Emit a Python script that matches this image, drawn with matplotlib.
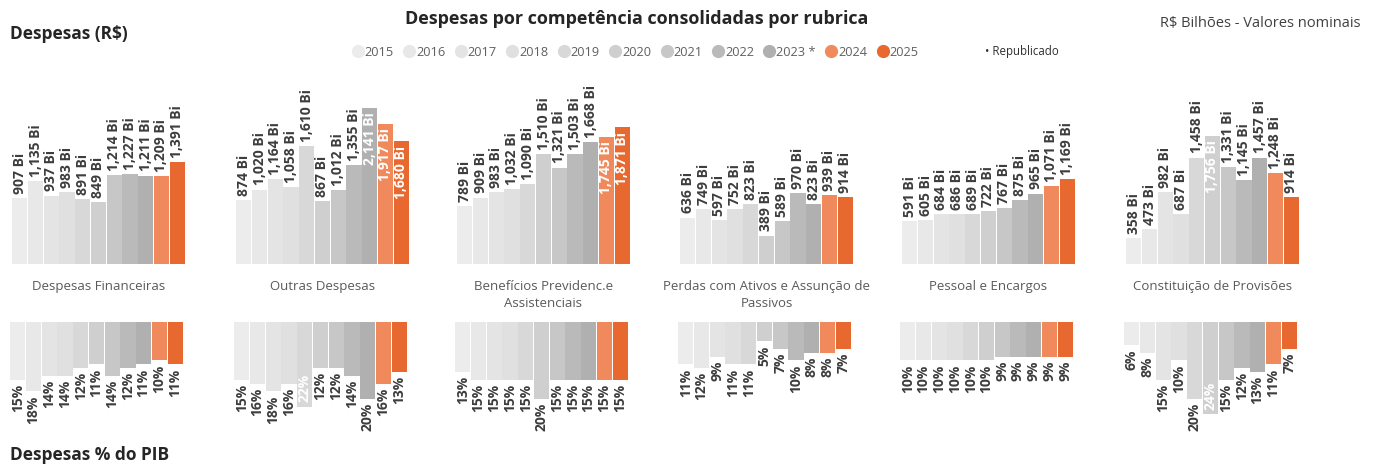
import matplotlib
matplotlib.use("Agg")
import matplotlib.pyplot as plt
from matplotlib.lines import Line2D

plt.rcParams['font.family'] = ['Open Sans', 'DejaVu Sans']

years = ['2015', '2016', '2017', '2018', '2019', '2020', '2021', '2022', '2023', '2024', '2025']
legend_labels = ['2015', '2016', '2017', '2018', '2019', '2020', '2021', '2022', '2023 *', '2024', '2025']
categories = ['Despesas Financeiras', 'Outras Despesas', 'Benefícios Previdenc.e\nAssistenciais',
              'Perdas com Ativos e Assunção de\nPassivos', 'Pessoal e Encargos', 'Constituição de Provisões']

# R$ bilhões
fin_rs = [907, 1135, 937, 983, 891, 849, 1214, 1227, 1211, 1209, 1391]
outras_rs = [874, 1020, 1164, 1058, 1610, 867, 1012, 1355, 2141, 1917, 1680]
benef_rs = [789, 909, 983, 1032, 1090, 1510, 1321, 1503, 1668, 1745, 1871]
perdas_rs = [636, 749, 597, 752, 823, 389, 589, 970, 823, 939, 914]
pessoal_rs = [591, 605, 684, 686, 689, 722, 767, 875, 965, 1071, 1169]
prov_rs = [358, 473, 982, 687, 1458, 1756, 1331, 1145, 1457, 1248, 914]

# % do PIB
fin_pib = [15, 18, 14, 14, 12, 11, 14, 12, 11, 10, 11]
outras_pib = [15, 16, 18, 16, 22, 12, 12, 14, 20, 16, 13]
benef_pib = [13, 15, 15, 15, 15, 20, 15, 15, 15, 15, 15]
perdas_pib = [11, 12, 9, 11, 11, 5, 7, 10, 8, 8, 7]
pessoal_pib = [10, 10, 10, 10, 10, 10, 9, 9, 9, 9, 9]
prov_pib = [6, 8, 15, 10, 20, 24, 15, 12, 13, 11, 7]

rs_series = [fin_rs, outras_rs, benef_rs, perdas_rs, pessoal_rs, prov_rs]
pib_series = [fin_pib, outras_pib, benef_pib, perdas_pib, pessoal_pib, prov_pib]

colors = ['#ECECEC', '#E8E8E8', '#E4E4E4', '#E0E0E0', '#D8D8D8', '#CFCFCF',
          '#C7C7C7', '#BABABA', '#B0B0B0', '#F08A5D', '#E8692F']

W, H = 1375, 468
fig = plt.figure(figsize=(W / 100, H / 100), dpi=100)
fig.patch.set_facecolor('white')

def frac_rect(x0, y_top, w, h):
    return [x0 / W, 1 - (y_top + h) / H, w / W, h / H]

panel_left = [12, 236, 457, 680, 902, 1126]
panel_w = 173
label_color = '#3d3d3d'
LBL_FS = 10

RS_TOP, RS_BASE = 70, 264
RS_MAX = (RS_BASE - RS_TOP) * 13.7
PIB_TOP, PIB_H = 322, 118
PIB_MAX = PIB_H * 0.26
x = list(range(len(years)))

for i in range(6):
    # top chart (R$)
    ax = fig.add_axes(frac_rect(panel_left[i], RS_TOP, panel_w, RS_BASE - RS_TOP))
    vals = rs_series[i]
    ax.bar(x, vals, width=0.96, color=colors, linewidth=0)
    ax.set_xlim(-0.5, len(years) - 0.5)
    ax.set_ylim(0, RS_MAX)
    ax.axis('off')
    for xi, v in zip(x, vals):
        txt = f"{v:,} Bi"
        if v > 1675:
            ax.annotate(txt, (xi, v), xytext=(0, -3), textcoords='offset points',
                        rotation=90, ha='center', va='top', color='white',
                        fontsize=LBL_FS, fontweight='bold', annotation_clip=False)
        else:
            ax.annotate(txt, (xi, v), xytext=(0, 3), textcoords='offset points',
                        rotation=90, ha='center', va='bottom', color=label_color,
                        fontsize=LBL_FS, fontweight='bold', annotation_clip=False)
    # category title
    cx = panel_left[i] + panel_w / 2
    fig.text(cx / W, 1 - 280 / H, categories[i], ha='center', va='top',
             fontsize=9.5, color='#5a5a5a', linespacing=1.4)

    # bottom chart (% PIB)
    axb = fig.add_axes(frac_rect(panel_left[i] - 2, PIB_TOP, panel_w, PIB_H))
    pv = pib_series[i]
    axb.bar(x, pv, width=0.96, color=colors, linewidth=0)
    axb.set_xlim(-0.5, len(years) - 0.5)
    axb.set_ylim(PIB_MAX, 0)
    axb.axis('off')
    for xi, v in zip(x, pv):
        txt = f"{v}%"
        if v > 21:
            axb.annotate(txt, (xi, v), xytext=(0, 3), textcoords='offset points',
                         rotation=90, ha='center', va='bottom', color='white',
                         fontsize=LBL_FS, fontweight='bold', annotation_clip=False)
        else:
            axb.annotate(txt, (xi, v), xytext=(0, -3), textcoords='offset points',
                         rotation=90, ha='center', va='top', color=label_color,
                         fontsize=LBL_FS, fontweight='bold', annotation_clip=False)

# titles
fig.text(637 / W, 1 - 19 / H, 'Despesas por competência consolidadas por rubrica',
         ha='center', va='center', fontsize=13, fontweight='bold', color='#252525')
fig.text(10 / W, 1 - 34 / H, 'Despesas (R$)', ha='left', va='center',
         fontsize=12.5, fontweight='bold', color='#252525')
fig.text(1360 / W, 1 - 23 / H, 'R$ Bilhões - Valores nominais', ha='right', va='center',
         fontsize=10.5, color='#404040')
fig.text(10 / W, 1 - 455 / H, 'Despesas % do PIB', ha='left', va='center',
         fontsize=12.5, fontweight='bold', color='#252525')
fig.text(985 / W, 1 - 52 / H, '• Republicado', ha='left', va='center',
         fontsize=8.3, color='#303030')

# legend
handles = [Line2D([0], [0], marker='o', linestyle='', markersize=8.5,
                  markerfacecolor=c, markeredgecolor=c) for c in colors]
leg = fig.legend(handles, legend_labels, loc='center', ncol=len(years),
                 bbox_to_anchor=(635 / W, 1 - 52 / H), frameon=False,
                 fontsize=9.2, handletextpad=0.05, columnspacing=0.7,
                 handlelength=1.0, borderpad=0)
for t in leg.get_texts():
    t.set_color('#606060')

fig.savefig('out.png', dpi=100, facecolor='white')
